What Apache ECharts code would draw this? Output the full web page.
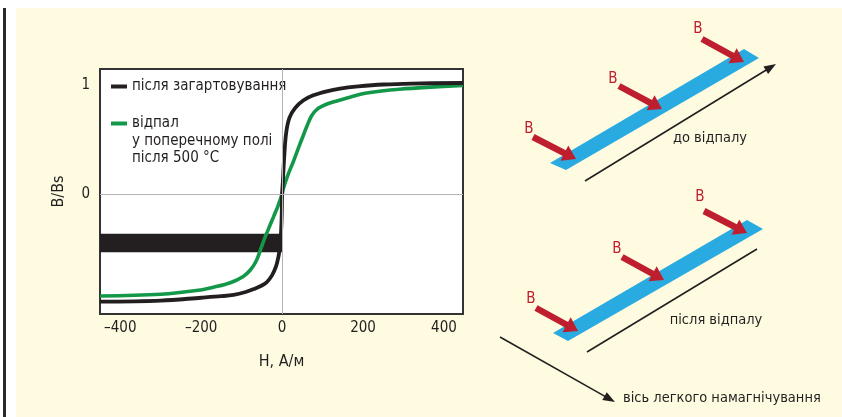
<!DOCTYPE html>
<html>
<head>
<meta charset="utf-8">
<script src="https://cdn.jsdelivr.net/npm/echarts@6/dist/echarts.min.js"></script>
<style>
  html, body { margin: 0; padding: 0; background: #ffffff; }
  #wrap { position: relative; width: 842px; height: 417px; overflow: hidden; }
  #bg { position: absolute; left: 16px; top: 8px; width: 826px; height: 409px; background: #fffbe1; }
  #rule { position: absolute; left: 3px; top: 8px; width: 3px; height: 409px; background: #2a2a2a; }
  #chart { position: absolute; left: 0; top: 0; width: 842px; height: 417px; }
</style>
</head>
<body>
<div id="wrap"><div id="bg"></div><div id="rule"></div><div id="chart"></div></div>
<script>
// ---- data (H in A/m, B/Bs) ----
const seriesNames = ['після загартовування', 'відпал\nу поперечному полі\nпісля 500 °C'];
const quenchedCurve = [
  [-450,-0.994],[-300,-0.984],[-200,-0.958],[-150,-0.944],[-120,-0.932],[-90,-0.905],
  [-70,-0.878],[-50,-0.845],[-38,-0.815],[-25,-0.752],[-15,-0.67],[-9,-0.58],[-6,-0.5],
  [-3,-0.38],[-1,-0.2],[0,0],[2,0.12],[5,0.33],[10,0.56],[18,0.70],[32,0.79],[52,0.86],
  [77,0.908],[110,0.945],[143,0.97],[188,0.99],[250,1.008],[320,1.017],[447,1.022]
];
const annealedCurve = [
  [-450,-0.942],[-300,-0.926],[-200,-0.886],[-170,-0.862],[-128,-0.82],[-96,-0.762],
  [-78,-0.70],[-64,-0.62],[-52,-0.50],[-42,-0.40],[-30,-0.29],[-21,-0.21],[-10,-0.11],
  [0,0],[3,0.05],[15,0.18],[28,0.30],[40,0.42],[53,0.545],[63,0.64],[73,0.72],[85,0.775],
  [98,0.806],[118,0.837],[160,0.883],[209,0.93],[290,0.965],[447,1.0]
];
const xTicks = [-400, -200, 0, 200, 400];
const yTicks = [0, 1];
const xRange = [-450, 447];
const yRange = [-1.108, 1.151];
const maskBand = { x: [-450, 0], y: [-0.369, -0.538] };
const xName = 'H, А/м';
const yName = 'B/Bs';
const diagramTexts = { before: 'до відпалу', after: 'після відпалу', axis: 'вісь легкого намагнічування', field: 'B' };

const FONT = '"DejaVu Sans Condensed", "Liberation Sans Narrow", sans-serif';
const RED = '#be1e2d', BLUE = '#29abe2', INK = '#231f20', GREEN = '#13984a';

function arrow(x1, y1, x2, y2, w, hl, hw, color) {
  const dx = x2 - x1, dy = y2 - y1, L = Math.hypot(dx, dy);
  const ux = dx / L, uy = dy / L, nx = -uy, ny = ux;
  const bx = x2 - ux * hl, by = y2 - uy * hl;
  return [
    { type: 'line', shape: { x1: x1, y1: y1, x2: bx + ux * 1, y2: by + uy * 1 }, style: { stroke: color, lineWidth: w }, silent: true },
    { type: 'polygon', shape: { points: [[x2, y2], [bx + nx * hw / 2, by + ny * hw / 2], [bx - nx * hw / 2, by - ny * hw / 2]] }, style: { fill: color }, silent: true }
  ];
}
function txt(x, y, s, color, align, size) {
  return { type: 'text', x: x, y: y, silent: true,
    style: { text: s, fill: color, font: size + 'px ' + FONT, textAlign: align, textVerticalAlign: 'middle' } };
}

const g = [];
// top diagram
g.push({ type: 'polygon', shape: { points: [[550,163],[566,170],[759,58],[744,49]] }, style: { fill: BLUE }, silent: true });
g.push(...arrow(585, 181, 776, 64, 1.6, 12, 9, INK));
[[533,137,576,159,529,129],[619,86,662,109,613,79],[702,39,744,62,698,29]].forEach(a => {
  g.push(...arrow(a[0], a[1], a[2], a[3], 6.5, 13, 17, RED));
  g.push(txt(a[4], a[5], diagramTexts.field, RED, 'center', 15));
});
g.push(txt(710, 138, diagramTexts.before, INK, 'center', 14.5));
// bottom diagram
g.push({ type: 'polygon', shape: { points: [[553,333],[568,341],[763,229],[747,220]] }, style: { fill: BLUE }, silent: true });
g.push({ type: 'line', shape: { x1: 587, y1: 352, x2: 757, y2: 249 }, style: { stroke: INK, lineWidth: 1.6 }, silent: true });
[[536,308,578,331,531,299],[622,257,664,280,617,249],[704,211,747,233,700,197]].forEach(a => {
  g.push(...arrow(a[0], a[1], a[2], a[3], 6.5, 13, 17, RED));
  g.push(txt(a[4], a[5], diagramTexts.field, RED, 'center', 15));
});
g.push(txt(716, 320, diagramTexts.after, INK, 'center', 14.5));
g.push(...arrow(500, 337, 615, 402, 1.6, 12, 9, INK));
g.push(txt(623, 398, diagramTexts.axis, INK, 'left', 14.5));
// legend continuation lines
g.push({ type: 'text', left: 132, top: 132, silent: true,
  style: { text: seriesNames[1].split('\n').slice(1).join('\n'), fill: INK, font: '15px ' + FONT, lineHeight: 17.5 } });

const chart = echarts.init(document.getElementById('chart'), null, { renderer: 'canvas' });
chart.setOption({
  backgroundColor: 'transparent',
  animation: false,
  grid: { left: 100, top: 69, right: 379, bottom: 103, show: true, backgroundColor: '#ffffff', borderColor: '#333333', borderWidth: 2 },
  legend: {
    data: seriesNames, orient: 'vertical', left: 111, top: 79, itemGap: 22, padding: 0,
    icon: 'rect', itemWidth: 16, itemHeight: 4,
    textStyle: { fontFamily: FONT, fontSize: 15, color: INK },
    formatter: n => n.split('\n')[0], selectedMode: false
  },
  xAxis: {
    type: 'value', min: xRange[0], max: xRange[1],
    name: xName, nameLocation: 'middle', nameGap: 40,
    nameTextStyle: { fontFamily: FONT, fontSize: 16, color: INK },
    axisLine: { show: false }, axisTick: { show: false }, splitLine: { show: false },
    axisLabel: { customValues: xTicks, margin: 7, fontFamily: FONT, fontSize: 15, color: INK,
      formatter: v => String(v).replace('-', '–') }
  },
  yAxis: {
    type: 'value', min: yRange[0], max: yRange[1],
    name: yName, nameLocation: 'middle', nameGap: 33, nameRotate: 90,
    nameTextStyle: { fontFamily: FONT, fontSize: 16, color: INK },
    axisLine: { show: false }, axisTick: { show: false }, splitLine: { show: false },
    axisLabel: { customValues: yTicks, margin: 10, fontFamily: FONT, fontSize: 15, color: INK }
  },
  graphic: g,
  series: [
    { type: 'line', name: 'zero', data: [], z: 1, silent: true,
      markLine: { silent: true, symbol: 'none', label: { show: false },
        lineStyle: { color: '#b4b4b4', width: 1, type: 'solid' },
        data: [{ xAxis: 0 }, { yAxis: 0 }] } },
    { type: 'line', name: seriesNames[1], data: annealedCurve, z: 3, showSymbol: false, smooth: 0.35,
      lineStyle: { color: GREEN, width: 3.6 }, itemStyle: { color: GREEN } },
    { type: 'line', name: seriesNames[0], data: quenchedCurve, z: 4, showSymbol: false, smooth: 0.35,
      lineStyle: { color: INK, width: 3.8 }, itemStyle: { color: INK } },
    { type: 'line', name: 'mask', data: [], z: 6, silent: true,
      markArea: { silent: true, itemStyle: { color: INK, opacity: 1 },
        data: [[{ xAxis: maskBand.x[0], yAxis: maskBand.y[0] }, { xAxis: maskBand.x[1], yAxis: maskBand.y[1] }]] } }
  ]
});
</script>
</body>
</html>
